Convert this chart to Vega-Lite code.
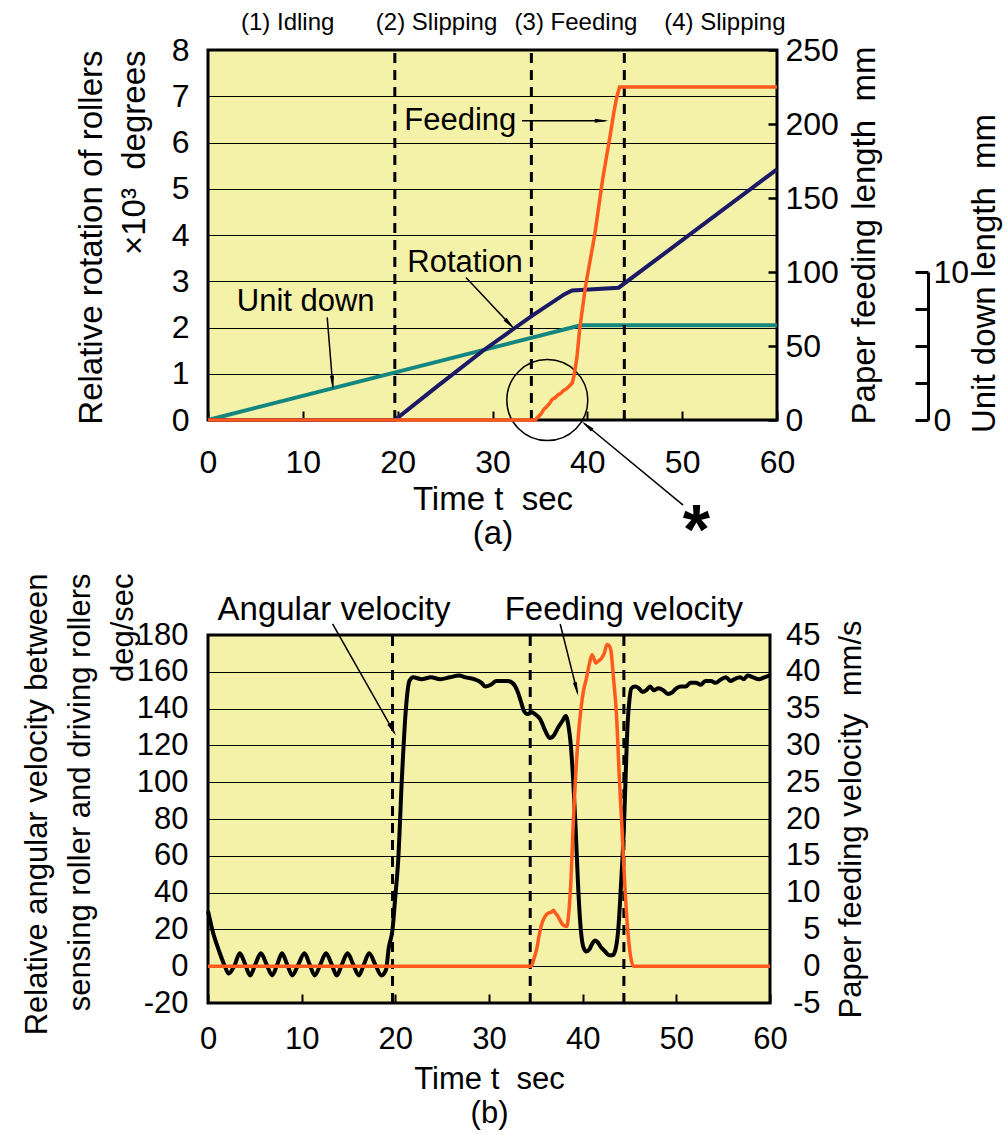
{
"$schema":"https://vega.github.io/schema/vega-lite/v6.json",
"padding":{"left":19,"top":9,"right":0,"bottom":0},
"config":{
 "font":"Liberation Sans",
 "view":{"stroke":"black","strokeWidth":3,"fill":"#F4F1A8"},
 "axis":{"labelFont":"Liberation Sans","titleFont":"Liberation Sans","labelFontSize":32,"titleFontSize":33,"labelColor":"black","titleColor":"black","titleFontWeight":"normal","labelFlush":false,"labelOverlap":false},
 "text":{"font":"Liberation Sans"}
},
"datasets":{
 "rotA":[{"t":0,"v":0},{"t":19.7,"v":0},{"t":24,"v":0.7},{"t":29.2,"v":1.53},{"t":34.15,"v":2.25},{"t":37.6,"v":2.72},{"t":38.4,"v":2.8},{"t":43.3,"v":2.86},{"t":60,"v":5.42}],
 "unitA":[{"t":0,"v":0},{"t":39.3,"v":6.4},{"t":60,"v":6.4}],
 "feedA":[{"t":0,"v":0},{"t":34.5,"v":0},{"t":34.8,"v":2},{"t":35.1,"v":4},{"t":35.4,"v":7},{"t":35.7,"v":9},{"t":36.0,"v":11},{"t":36.3,"v":14},{"t":36.6,"v":15},{"t":36.9,"v":17},{"t":37.2,"v":18},{"t":37.5,"v":20},{"t":37.8,"v":21},{"t":38.1,"v":23},{"t":38.4,"v":25},{"t":38.6,"v":30},{"t":38.9,"v":42},{"t":39.2,"v":62},{"t":39.8,"v":90},{"t":40.8,"v":126},{"t":41.6,"v":162},{"t":42.4,"v":192},{"t":42.8,"v":208},{"t":43.1,"v":218},{"t":43.4,"v":225},{"t":60,"v":225}],
 "dashA":[{"t":19.7,"v":0,"v2":8},{"t":34.1,"v":0,"v2":8},{"t":43.9,"v":0,"v2":8}],
 "phasesA":[{"t":8.4,"v":8.58,"label":"(1) Idling"},{"t":24.1,"v":8.58,"label":"(2) Slipping"},{"t":38.8,"v":8.58,"label":"(3) Feeding"},{"t":54.5,"v":8.58,"label":"(4) Slipping"}],
 "annoA":[{"t":26.6,"v":6.47,"label":"Feeding"},{"t":27.1,"v":3.4,"label":"Rotation"},{"t":10.3,"v":2.55,"label":"Unit down"}],
 "arrowsA":[{"t":33.1,"v":6.47,"t2":41.9,"v2":6.47},{"t":27.2,"v":3.08,"t2":32.1,"v2":2.01},{"t":12.57,"v":2.22,"t2":13.16,"v2":0.73},{"t":50.1,"v":-1.84,"t2":39.65,"v2":-0.07}],
 "headsA":[{"t":41.27,"v":6.47,"angle":90},{"t":31.67,"v":2.105,"angle":136.8},{"t":13.11,"v":0.86,"angle":175.4},{"t":40.14,"v":-0.153,"angle":309.6}],
 "circleA":[{"t":35.78,"v":0.43}],
 "starA":[{"t":51.5,"v":-2.9,"label":"*"}],
 "angB":[{"t":0,"v":30},{"t":0.5,"v":19},{"t":1.2,"v":8},{"t":1.8,"v":0},{"t":2.2,"v":-4},{"t":2.8,"v":0},{"t":3.4,"v":7},{"t":3.9,"v":2},{"t":4.5,"v":-5},{"t":5.05,"v":1},{"t":5.65,"v":7},{"t":6.25,"v":1},{"t":6.85,"v":-5},{"t":7.4,"v":1},{"t":7.9,"v":7},{"t":8.45,"v":1},{"t":9.0,"v":-5},{"t":9.65,"v":1},{"t":10.3,"v":7},{"t":10.85,"v":1},{"t":11.4,"v":-5},{"t":12.0,"v":1},{"t":12.6,"v":7},{"t":13.2,"v":1},{"t":13.75,"v":-5},{"t":14.3,"v":1},{"t":14.9,"v":7},{"t":15.5,"v":1},{"t":16.1,"v":-5},{"t":16.65,"v":1},{"t":17.2,"v":7},{"t":17.85,"v":1},{"t":18.5,"v":-5},{"t":19.0,"v":-2},{"t":19.3,"v":10},{"t":19.7,"v":20},{"t":20.0,"v":38},{"t":20.3,"v":57},{"t":20.7,"v":102},{"t":21.1,"v":138},{"t":21.5,"v":155},{"t":21.9,"v":157},{"t":22.8,"v":156},{"t":23.8,"v":157},{"t":24.8,"v":156},{"t":25.8,"v":157},{"t":26.8,"v":158},{"t":27.5,"v":157},{"t":28.4,"v":156},{"t":29.2,"v":154},{"t":29.6,"v":152},{"t":30.2,"v":153},{"t":30.8,"v":155},{"t":31.5,"v":155},{"t":32,"v":155},{"t":32.5,"v":154},{"t":33,"v":150},{"t":33.4,"v":144},{"t":33.7,"v":139},{"t":34.1,"v":137},{"t":34.6,"v":138},{"t":34.9,"v":137},{"t":35.5,"v":134},{"t":36.0,"v":128},{"t":36.5,"v":124},{"t":37.0,"v":126},{"t":37.3,"v":129},{"t":37.8,"v":133},{"t":38.2,"v":136},{"t":38.5,"v":130},{"t":38.7,"v":122},{"t":39.0,"v":100},{"t":39.25,"v":75},{"t":39.5,"v":45},{"t":39.8,"v":20},{"t":40.1,"v":10},{"t":40.4,"v":8},{"t":40.7,"v":9},{"t":41.0,"v":12},{"t":41.3,"v":14},{"t":41.6,"v":13},{"t":42.0,"v":10},{"t":42.4,"v":8},{"t":42.8,"v":6},{"t":43.2,"v":6},{"t":43.5,"v":9},{"t":43.8,"v":20},{"t":44.1,"v":45},{"t":44.4,"v":75},{"t":44.6,"v":105},{"t":44.8,"v":132},{"t":45.0,"v":145},{"t":45.2,"v":151},{"t":45.6,"v":152},{"t":46.0,"v":151},{"t":46.4,"v":149},{"t":46.8,"v":150},{"t":47.2,"v":152},{"t":47.6,"v":150},{"t":48.1,"v":151},{"t":48.6,"v":150},{"t":49.1,"v":148},{"t":49.6,"v":149},{"t":50.0,"v":151},{"t":50.5,"v":152},{"t":51.0,"v":152},{"t":51.5,"v":154},{"t":52.1,"v":154},{"t":52.6,"v":153},{"t":53.1,"v":155},{"t":53.7,"v":155},{"t":54.2,"v":154},{"t":54.8,"v":156},{"t":55.3,"v":157},{"t":55.8,"v":155},{"t":56.2,"v":156},{"t":56.8,"v":157},{"t":57.2,"v":156},{"t":57.6,"v":158},{"t":58.2,"v":157},{"t":58.8,"v":156},{"t":59.4,"v":157},{"t":60,"v":158}],
 "feedB":[{"t":0,"v":0},{"t":34.5,"v":0},{"t":34.8,"v":1},{"t":35.1,"v":2.4},{"t":35.4,"v":4.5},{"t":35.7,"v":6},{"t":36.0,"v":6.8},{"t":36.3,"v":7.2},{"t":36.6,"v":7.3},{"t":36.9,"v":7.6},{"t":37.1,"v":7.2},{"t":37.3,"v":6.9},{"t":37.6,"v":6.2},{"t":37.9,"v":5.6},{"t":38.3,"v":5.4},{"t":38.5,"v":7},{"t":38.7,"v":10.5},{"t":39.05,"v":20.9},{"t":39.45,"v":29.9},{"t":39.85,"v":35.3},{"t":40.1,"v":37.5},{"t":40.4,"v":39.1},{"t":40.7,"v":41},{"t":41.0,"v":42.3},{"t":41.2,"v":41.8},{"t":41.4,"v":41.2},{"t":41.7,"v":41.5},{"t":42.0,"v":41.8},{"t":42.3,"v":42.5},{"t":42.6,"v":43.7},{"t":42.8,"v":43.6},{"t":43.0,"v":43.0},{"t":43.3,"v":39},{"t":43.6,"v":34.4},{"t":43.9,"v":26},{"t":44.2,"v":18.7},{"t":44.5,"v":11},{"t":44.8,"v":5.1},{"t":45.1,"v":1.5},{"t":45.4,"v":0},{"t":60,"v":0}],
 "dashB":[{"t":19.7,"v":-20,"v2":180},{"t":34.4,"v":-20,"v2":180},{"t":44.4,"v":-20,"v2":180}],
 "annoB":[{"t":13.45,"v":193.6,"label":"Angular velocity"},{"t":44.4,"v":193.6,"label":"Feeding velocity"}],
 "arrowsB":[{"t":13.3,"v":186,"t2":19.9,"v2":126.8},{"t":37.6,"v":186,"t2":39.45,"v2":148.5}],
 "headsB":[{"t":19.58,"v":129.6,"angle":149.7},{"t":39.29,"v":151.7,"angle":165.9}]
},
"vconcat":[
 {
  "width":569,"height":370,
  "encoding":{"x":{"field":"t","type":"quantitative","scale":{"domain":[0,60],"nice":false},
    "axis":{"values":[0,10,20,30,40,50,60],"title":["Time t\u00a0\u00a0sec","(a)"],"tickSize":-9,"tickWidth":2,"tickColor":"black","domain":false,"grid":false,"labelPadding":36,"titlePadding":5,"titleLineHeight":34}}},
  "layer":[
   {"data":{"name":"unitA"},"mark":{"type":"line","color":"#13877F","strokeWidth":4},
    "encoding":{"y":{"field":"v","type":"quantitative","scale":{"domain":[0,10],"range":[370,222],"nice":false,"zero":false},
      "axis":{"orient":"right","offset":151,"values":[0,2.5,5,7.5,10],"labelExpr":"datum.value==0||datum.value==10?datum.label:''","domain":true,"domainColor":"black","domainWidth":3,"tickSize":-13,"tickWidth":3,"tickColor":"black","grid":false,"labelPadding":18,"title":"Unit down length\u00a0\u00a0mm","titleAngle":-90,"titleBaseline":"top","titleY":223,"titlePadding":0}}}},
   {"encoding":{"y":{"field":"v","type":"quantitative","scale":{"domain":[0,8],"nice":false},
      "axis":{"orient":"left","values":[0,1,2,3,4,5,6,7,8],"grid":true,"gridColor":"black","gridWidth":1.2,"gridOpacity":1,"tickSize":0,"domain":false,"labelPadding":19,"title":["Relative rotation of rollers","×10³\u00a0\u00a0degrees\u00a0\u00a0\u00a0\u00a0\u00a0"],"titleAngle":-90,"titleAlign":"right","titleY":0,"titleLineHeight":43,"titlePadding":20}}},
    "layer":[
     {"data":{"name":"dashA"},"mark":{"type":"rule","strokeDash":[10,7],"strokeWidth":3,"color":"black"},"encoding":{"y2":{"field":"v2"}}},
     {"data":{"name":"rotA"},"mark":{"type":"line","color":"#1C1A66","strokeWidth":4}},
     {"data":{"name":"arrowsA"},"mark":{"type":"rule","color":"black","strokeWidth":1.5},"encoding":{"x2":{"field":"t2"},"y2":{"field":"v2"}}},
     {"data":{"name":"headsA"},"mark":{"type":"point","shape":"wedge","size":260,"filled":true,"color":"black","opacity":1},"encoding":{"angle":{"field":"angle","type":"quantitative","scale":null}}},
     {"data":{"name":"circleA"},"mark":{"type":"point","shape":"circle","size":6561,"filled":false,"stroke":"black","strokeWidth":1.5,"opacity":1}},
     {"data":{"name":"annoA"},"mark":{"type":"text","fontSize":31,"align":"center","baseline":"middle","color":"black"},"encoding":{"text":{"field":"label"}}},
     {"data":{"name":"phasesA"},"mark":{"type":"text","fontSize":24,"align":"center","baseline":"middle","color":"black"},"encoding":{"text":{"field":"label"}}},
     {"data":{"name":"starA"},"mark":{"type":"text","fontSize":70,"fontWeight":"bold","align":"center","baseline":"alphabetic","color":"black"},"encoding":{"text":{"field":"label"}}}
    ]},
   {"data":{"name":"feedA"},"mark":{"type":"line","color":"#FF5A1E","strokeWidth":3.5},
    "encoding":{"y":{"field":"v","type":"quantitative","scale":{"domain":[0,250],"nice":false},
      "axis":{"orient":"right","values":[0,50,100,150,200,250],"tickSize":-9,"tickWidth":2.5,"tickColor":"black","domain":false,"grid":false,"labelPadding":17,"title":"Paper feeding length\u00a0\u00a0mm","titleAngle":-90,"titleBaseline":"top","titlePadding":10}}}}
  ],
  "resolve":{"scale":{"y":"independent"}}
 },
 {
  "width":562,"height":368,
  "encoding":{"x":{"field":"t","type":"quantitative","scale":{"domain":[0,60],"nice":false},
    "axis":{"values":[0,10,20,30,40,50,60],"title":["Time t\u00a0\u00a0sec","(b)"],"tickSize":-9,"tickWidth":2,"tickColor":"black","domain":false,"grid":false,"labelPadding":30,"titlePadding":10,"titleLineHeight":34,"labelFontSize":31,"titleFontSize":31}}},
  "layer":[
   {"encoding":{"y":{"field":"v","type":"quantitative","scale":{"domain":[-20,180],"nice":false,"zero":false},
      "axis":{"orient":"left","values":[-20,0,20,40,60,80,100,120,140,160,180],"labelExpr":"''+datum.value","grid":true,"gridColor":"black","gridWidth":1.2,"gridOpacity":1,"tickSize":0,"domain":false,"labelPadding":20,"labelFontSize":31,"titleFontSize":31,"title":["Relative angular velocity between","sensing roller and driving rollers","deg/sec"],"titleAngle":-90,"titleAlign":"right","titleY":-62,"titleLineHeight":43,"titlePadding":-3}}},
    "layer":[
     {"data":{"name":"dashB"},"mark":{"type":"rule","strokeDash":[10,7],"strokeWidth":3,"color":"black"},"encoding":{"y2":{"field":"v2"}}},
     {"data":{"name":"angB"},"mark":{"type":"line","color":"black","strokeWidth":4,"interpolate":"monotone"}},
     {"data":{"name":"arrowsB"},"mark":{"type":"rule","color":"black","strokeWidth":1.5},"encoding":{"x2":{"field":"t2"},"y2":{"field":"v2"}}},
     {"data":{"name":"headsB"},"mark":{"type":"point","shape":"wedge","size":260,"filled":true,"color":"black","opacity":1},"encoding":{"angle":{"field":"angle","type":"quantitative","scale":null}}},
     {"data":{"name":"annoB"},"mark":{"type":"text","fontSize":33,"align":"center","baseline":"middle","color":"black"},"encoding":{"text":{"field":"label"}}}
    ]},
   {"data":{"name":"feedB"},"mark":{"type":"line","color":"#FF5A1E","strokeWidth":3.5,"interpolate":"monotone"},
    "encoding":{"y":{"field":"v","type":"quantitative","scale":{"domain":[-5,45],"nice":false,"zero":false},
      "axis":{"orient":"right","values":[-5,0,5,10,15,20,25,30,35,40,45],"labelExpr":"''+datum.value","tickSize":0,"domain":false,"grid":false,"labelPadding":50,"labelAlign":"right","labelFontSize":31,"titleFontSize":31,"title":"Paper feeding velocity\u00a0\u00a0mm/s","titleAngle":-90,"titleBaseline":"top","titlePadding":16}}}}
  ],
  "resolve":{"scale":{"y":"independent"}}
 }
],
"spacing":215,
"bounds":"flush"
}
